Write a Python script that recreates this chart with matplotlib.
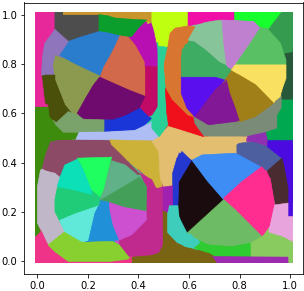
import matplotlib
matplotlib.use("Agg")
import matplotlib.pyplot as plt
from matplotlib.patches import Rectangle

# cluster outlines, (x, y) in axis units. later ones sit on top
maroon = [(.05,.485),(.076,.492),(.287,.492),(.294,.472),(.406,.353),(.25,.30),(.09,.343),(.017,.377),(.03,.43)]
left_green = [(-.009,.627),(.05,.627),(.05,.586),(.07,.557),(.103,.523),(.162,.523),(.153,.495),(.076,.492),(.05,.485),(.03,.43),(.017,.377),(.013,.37),(.001,.303),(.001,.154),(.013,.118),(-.009,.096)]
left_pink = [(-.009,1.011),(.07,1.011),(.07,.94),(.03,.884),(.017,.755),(.03,.64),(.05,.627),(-.009,.627)]
dark_grey = [(.07,1.011),(.103,1.011),(.103,1.0),(.244,1.0),(.244,.931),(.169,.908),(.123,.891),(.07,.94)]
top_gold = [(.103,1.011),(.453,1.011),(.453,.968),(.38,.978),(.288,.992),(.244,1.0),(.103,1.0)]
top_green = [(.244,1.0),(.281,.995),(.307,.985),(.432,.978),(.399,.945),(.373,.911),(.327,.914),(.274,.927),(.244,.931)]
blue_a = [(.087,.836),(.123,.891),(.169,.908),(.244,.931),(.274,.927),(.327,.914),(.307,.870),(.287,.830),(.264,.789),(.248,.751),(.182,.782)]
terracotta = [(.327,.914),(.360,.908),(.393,.87),(.426,.803),(.428,.668),(.360,.695),(.248,.746),(.264,.789),(.287,.830),(.307,.870)]
olive = [(.07,.836),(.182,.782),(.248,.751),(.215,.708),(.162,.593),(.136,.593),(.109,.634),(.07,.735),(.061,.796)]
periwinkle = [(.07,.94),(.123,.891),(.087,.836),(.07,.836),(.061,.796),(.066,.755),(.017,.755),(.021,.83),(.03,.884)]
dark_olive = [(.03,.755),(.07,.755),(.07,.735),(.109,.634),(.136,.6),(.09,.553),(.05,.586),(.037,.695)]
dark_purple = [(.248,.746),(.360,.695),(.428,.668),(.406,.62),(.347,.589),(.300,.573),(.182,.576),(.158,.6),(.195,.668),(.228,.722)]
top_magenta = [(.374,.908),(.432,.958),(.453,.968),(.467,.90),(.48,.83),(.48,.789),(.426,.789),(.426,.81),(.393,.87)]
crimson = [(.428,.789),(.478,.789),(.478,.627),(.453,.593),(.439,.586),(.406,.62),(.428,.668)]
bright_blue = [(.264,.573),(.300,.573),(.347,.589),(.406,.62),(.439,.586),(.453,.58),(.425,.553),(.385,.532),(.264,.526)]
grey_green = [(.07,.557),(.123,.607),(.158,.593),(.182,.576),(.264,.573),(.264,.526),(.158,.523),(.103,.523)]
pale_blue = [(.153,.495),(.168,.523),(.264,.523),(.385,.53),(.432,.55),(.453,.567),(.453,.539),(.482,.505),(.453,.485),(.287,.492)]
gold = [(.287,.492),(.453,.488),(.48,.48),(.482,.444),(.493,.303),(.467,.296),(.453,.325),(.294,.472)]
beige = [(.453,.485),(.482,.505),(.519,.549),(.552,.539),(.657,.505),(.828,.505),(.85,.47),(.789,.472),(.789,.438),(.664,.431),(.611,.411),(.559,.442),(.539,.364),(.535,.303),(.499,.303),(.486,.336),(.48,.445)]
slate = [(.789,.472),(.798,.478),(.849,.485),(.909,.465),(.967,.418),(.909,.366),(.883,.383),(.789,.438)]
violet_strip = [(.912,.492),(1.009,.492),(1.009,.181),(.991,.181),(.991,.296),(.974,.39),(.967,.418),(.909,.465)]
plum = [(.909,.366),(.967,.418),(.974,.39),(.991,.296),(.991,.23),(.941,.228),(.921,.334)]
azure = [(.609,.408),(.651,.431),(.782,.438),(.883,.383),(.809,.323),(.736,.246),(.671,.323)]
black = [(.609,.408),(.671,.323),(.736,.246),(.592,.114),(.569,.154),(.556,.215),(.559,.323),(.579,.357)]
hot_pink = [(.736,.255),(.809,.323),(.888,.383),(.921,.334),(.938,.228),(.921,.147),(.888,.1),(.862,.127),(.783,.208)]
mid_green = [(.736,.249),(.783,.208),(.862,.127),(.888,.1),(.842,.073),(.77,.059),(.677,.066),(.592,.114)]
lilac = [(.938,.228),(.991,.236),(.991,.181),(1.009,.181),(1.009,.08),(.974,.1),(.915,.118),(.921,.147)]
light_green = [(.842,.073),(.888,.1),(.915,.114),(.974,.08),(1.009,.066),(1.009,-.009),(.991,-.009),(.991,.019),(.842,.019)]
bright_green = [(.618,.053),(.651,.077),(.677,.066),(.77,.059),(.842,.073),(.842,.019),(.704,.019),(.684,.032)]
purple_strip = [(.677,.019),(.991,.016),(.991,-.009),(.71,-.009),(.697,.0)]
olive_brown = [(.373,-.009),(.373,.019),(.453,.03),(.48,.036),(.495,.066),(.495,.208),(.515,.195),(.515,.114),(.552,.073),(.625,.046),(.684,.028),(.71,-.009)]
teal = [(.522,.228),(.556,.228),(.559,.181),(.592,.114),(.611,.107),(.625,.073),(.618,.053),(.585,.059),(.552,.08),(.515,.118),(.515,.195)]
royal_blue = [(.535,.228),(.535,.357),(.552,.418),(.572,.445),(.609,.408),(.579,.357),(.559,.323),(.556,.228)]
small_violet = [(.495,.30),(.535,.306),(.535,.228),(.519,.228),(.515,.2),(.495,.208)]
plum_pink = [(.406,.357),(.432,.303),(.432,.168),(.373,.107),(.324,.086),(.324,.059),(.36,.019),(.373,.019),(.453,.026),(.48,.036),(.495,.066),(.495,.30),(.48,.286),(.467,.30),(.453,.33)]
grey_lilac = [(.013,.37),(.07,.357),(.09,.34),(.079,.303),(.07,.249),(.083,.168),(.109,.12),(.043,.066),(.024,.112),(.001,.154),(.001,.303)]
low_pink = [(-.009,.096),(.013,.118),(.043,.066),(.07,.039),(.123,-.001),(.287,-.001),(.36,.009),(.373,.019),(.373,-.009),(-.009,-.009)]
lime = [(.043,.066),(.109,.12),(.175,.08),(.3,.08),(.324,.066),(.36,.019),(.36,.009),(.287,-.001),(.123,-.001),(.07,.039)]
mint_petal = [(.087,.168),(.149,.195),(.244,.228),(.228,.195),(.202,.08),(.175,.08),(.109,.12)]
blue_petal = [(.244,.228),(.248,.249),(.287,.242),(.287,.208),(.3,.147),(.324,.086),(.192,.08),(.202,.08),(.228,.195)]
orchid_petal = [(.285,.239),(.34,.222),(.43,.205),(.432,.168),(.373,.107),(.324,.086),(.3,.147),(.287,.208)]
green_petal = [(.248,.249),(.403,.343),(.432,.303),(.43,.205),(.34,.222),(.285,.242)]
sea_petal = [(.294,.408),(.347,.391),(.403,.343),(.248,.249),(.261,.289)]
neon_petal = [(.159,.418),(.294,.422),(.261,.289),(.248,.262),(.211,.295),(.182,.370)]
aqua_petal = [(.09,.34),(.109,.39),(.159,.414),(.182,.37),(.211,.295),(.215,.269),(.136,.289),(.079,.303)]
teal_petal = [(.079,.296),(.136,.289),(.248,.259),(.244,.228),(.149,.195),(.087,.168),(.07,.201),(.07,.249)]
chartreuse = [(.453,1.011),(.596,1.011),(.596,.954),(.545,.945),(.525,.924),(.516,.87),(.482,.87),(.473,.91),(.453,.965)]
top_pink = [(.596,1.011),(.78,1.011),(.78,.978),(.723,.978),(.664,.968),(.596,.954)]
neon_green = [(.78,1.011),(.967,1.011),(.914,.945),(.881,.951),(.855,.972),(.78,.978)]
forest = [(.967,1.011),(1.009,1.011),(1.009,.846),(.971,.841),(.967,.873),(.914,.938)]
dark_green = [(.971,.841),(1.009,.846),(1.009,.654),(.964,.654),(.964,.674),(.983,.749),(.983,.816)]
emerald = [(.964,.654),(1.009,.654),(1.009,.492),(.912,.492),(.902,.535),(.947,.543),(.947,.593),(.964,.62)]
slate_green = [(.618,.586),(.677,.553),(.802,.566),(.927,.634),(.964,.668),(.964,.624),(.947,.593),(.947,.54),(.902,.525),(.828,.508),(.657,.508),(.624,.553)]
small_purple = [(.828,.499),(.861,.512),(.902,.505),(.9,.48),(.849,.485),(.828,.485)]
orange_arc = [(.596,.954),(.545,.945),(.525,.924),(.516,.87),(.499,.789),(.506,.701),(.532,.654),(.592,.593),(.618,.586),(.592,.62),(.569,.681),(.569,.857),(.592,.884),(.628,.949)]
pale_petal = [(.628,.954),(.664,.968),(.723,.978),(.741,.968),(.737,.884),(.75,.796),(.717,.809),(.664,.857),(.618,.891),(.596,.897)]
orchid_top = [(.730,.978),(.855,.972),(.881,.945),(.842,.884),(.78,.796),(.763,.776),(.75,.784),(.737,.884)]
green_top = [(.881,.945),(.914,.938),(.961,.884),(.983,.816),(.983,.796),(.783,.796),(.842,.884)]
sea_top = [(.618,.891),(.664,.857),(.717,.809),(.767,.776),(.741,.738),(.569,.746),(.569,.83),(.585,.878)]
yellow = [(.767,.776),(.783,.796),(.983,.796),(.983,.741),(.961,.681),(.934,.641),(.862,.716),(.798,.755)]
blue_violet = [(.569,.746),(.703,.746),(.741,.735),(.703,.695),(.624,.586),(.592,.62),(.569,.681)]
purple_top = [(.75,.735),(.763,.681),(.783,.627),(.802,.57),(.677,.553),(.624,.586),(.703,.695)]
ochre = [(.767,.769),(.798,.755),(.862,.716),(.934,.641),(.862,.586),(.802,.566),(.783,.627),(.763,.681),(.75,.735)]
mint_strip = [(.477,.87),(.503,.87),(.499,.789),(.506,.701),(.512,.6),(.525,.566),(.482,.505),(.453,.539),(.453,.58),(.477,.627)]
red = [(.506,.701),(.532,.654),(.592,.593),(.624,.553),(.657,.505),(.552,.539),(.519,.549),(.512,.6)]

clusters = [maroon, left_green, left_pink, dark_grey, top_gold, top_green, blue_a, terracotta, olive,
            periwinkle, dark_olive, dark_purple, top_magenta, crimson, bright_blue, grey_green, pale_blue,
            gold, beige, slate, violet_strip, plum, azure, black, hot_pink, mid_green, lilac, light_green,
            bright_green, purple_strip, olive_brown, teal, royal_blue, small_violet, plum_pink, grey_lilac,
            low_pink, lime, mint_petal, blue_petal, orchid_petal, green_petal, sea_petal, neon_petal,
            aqua_petal, teal_petal, chartreuse, top_pink, neon_green, forest, dark_green, emerald,
            slate_green, small_purple, orange_arc, pale_petal, orchid_top, green_top, sea_top, yellow,
            blue_violet, purple_top, ochre, mint_strip, red]
colours = ["#8C4A66", "#3D8C0E", "#E6289B", "#4D4D4D", "#C8962C", "#0C9E2C", "#2A7CCD", "#D2694A", "#8B9A4E",
           "#8E75BC", "#4A4F0A", "#6F0B6E", "#B80FB2", "#C00A66", "#1A35D8", "#7AA36B", "#AFBDF5",
           "#CDB23A", "#E3BD70", "#4E5FA0", "#4A0AE0", "#4A2C30", "#3D8DF5", "#1A0C0E", "#FF2D90", "#6DBB64",
           "#E8A4DC", "#8ACB60", "#2ECC30", "#9C2BB0", "#786413", "#3FCDBB", "#2438D0", "#A020B0", "#C02A8E",
           "#C0B8C8", "#EE3388", "#88D030", "#60E8D8", "#2090D8", "#CC50D0", "#44A058", "#60B088", "#20FF60",
           "#0CE0B8", "#20CC78", "#BFFF10", "#F010A8", "#18FF2E", "#359B4E", "#28583A", "#00A850",
           "#7A8C78", "#9030B0", "#D87530", "#88C49A", "#C080D0", "#5AC064", "#3FAC64", "#FAE060",
           "#5A10EE", "#821896", "#A07E18", "#28D098", "#F0101C"]

fig, ax = plt.subplots(figsize=(304 / 72, 291 / 72), dpi=72)

# the points only ever cover this square, keep the thick edges inside it
domain = Rectangle((-0.009, -0.009), 1.018, 1.02, transform=ax.transData)

# first pass with fat edges closes the gaps between outlines, second pass gives the real shapes
for width in [9, 0.6]:
    for outline, colour in zip(clusters, colours):
        xs, ys = zip(*outline)
        for patch in ax.fill(xs, ys, color=colour, linewidth=width, joinstyle="round"):
            patch.set_clip_path(domain)

ax.set_xlim(-0.051, 1.049)
ax.set_ylim(-0.053, 1.049)
ax.set_xticks([0.0, 0.2, 0.4, 0.6, 0.8, 1.0])
ax.set_yticks([0.0, 0.2, 0.4, 0.6, 0.8, 1.0])

fig.subplots_adjust(left=24.3 / 304, right=302.7 / 304, bottom=16.7 / 291, top=288.5 / 291)
fig.savefig("out.png", dpi=72)
